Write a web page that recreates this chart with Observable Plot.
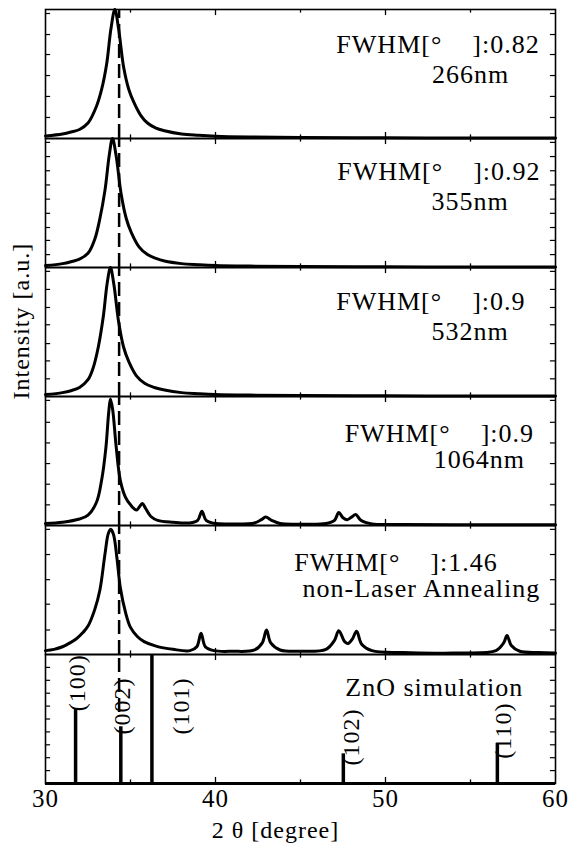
<!DOCTYPE html>
<html><head><meta charset="utf-8">
<script src="https://cdn.jsdelivr.net/npm/d3@7"></script>
<script src="https://cdn.jsdelivr.net/npm/@observablehq/plot@0.6"></script>
<style>
html,body{margin:0;padding:0;background:#fff;}
svg text{letter-spacing:1px;}
</style></head><body><div id="chart"></div>
<script>
// ---- data ----
const panels = ["266nm", "355nm", "532nm", "1064nm", "non-Laser", "ZnO"];

// XRD patterns: [2theta, relative intensity]
const pat266 = [[30,0.02],[31,0.035],[31.5,0.05],[32,0.07],[32.5,0.12],[33,0.25],[33.3,0.38],[33.6,0.58],[33.85,0.85],[34.08,1.0],[34.3,0.85],[34.6,0.55],[34.9,0.38],[35.2,0.28],[35.6,0.18],[36,0.12],[36.5,0.08],[37,0.06],[38,0.035],[39,0.025],[40,0.018],[42,0.012],[45,0.008],[50,0.005],[55,0.004],[60,0.003]];
const pat355 = [[30,0.015],[31,0.03],[31.5,0.045],[32,0.065],[32.5,0.11],[32.9,0.22],[33.2,0.38],[33.5,0.6],[33.75,0.87],[33.94,1.0],[34.15,0.87],[34.45,0.57],[34.75,0.38],[35.05,0.27],[35.5,0.16],[36,0.1],[36.5,0.07],[37,0.05],[38,0.03],[39,0.022],[40,0.016],[42,0.011],[45,0.007],[50,0.005],[55,0.004],[60,0.003]];
const pat532 = [[30,0.015],[31,0.03],[31.5,0.045],[32,0.07],[32.5,0.13],[32.8,0.22],[33.1,0.38],[33.4,0.62],[33.63,0.88],[33.82,1.0],[34.02,0.87],[34.3,0.58],[34.6,0.38],[34.9,0.27],[35.35,0.16],[35.85,0.1],[36.4,0.07],[37,0.05],[38,0.03],[39,0.022],[40,0.016],[42,0.011],[45,0.007],[50,0.005],[55,0.004],[60,0.003]];
const pat1064 = [[30,0.015],[31,0.025],[32,0.05],[32.5,0.08],[33,0.18],[33.3,0.35],[33.55,0.6],[33.72,0.88],[33.82,0.98],[33.95,0.9],[34.15,0.62],[34.4,0.35],[34.7,0.22],[35.0,0.16],[35.35,0.12],[35.55,0.15],[35.7,0.17],[35.9,0.13],[36.2,0.07],[36.6,0.04],[37.5,0.025],[38.5,0.02],[38.95,0.04],[39.2,0.11],[39.45,0.04],[40,0.015],[41,0.012],[42.3,0.02],[42.7,0.045],[42.95,0.065],[43.3,0.04],[43.8,0.015],[45,0.01],[46.5,0.015],[47,0.04],[47.25,0.1],[47.5,0.06],[47.75,0.045],[48,0.065],[48.25,0.085],[48.55,0.04],[49.2,0.012],[51,0.008],[55,0.006],[60,0.006]];
const patNonLaser = [[30,0.03],[30.5,0.04],[31,0.06],[31.3,0.08],[31.8,0.12],[32.2,0.17],[32.5,0.22],[32.9,0.35],[33.2,0.5],[33.5,0.78],[33.7,0.94],[33.84,0.97],[34.0,0.93],[34.2,0.75],[34.4,0.52],[34.7,0.33],[35.0,0.21],[35.4,0.14],[35.8,0.1],[36.5,0.065],[37.5,0.04],[38.5,0.03],[38.9,0.06],[39.15,0.165],[39.4,0.06],[39.9,0.03],[41,0.025],[42.3,0.035],[42.75,0.09],[43.0,0.19],[43.25,0.09],[43.8,0.035],[45,0.025],[46.5,0.04],[47.0,0.11],[47.25,0.185],[47.6,0.1],[47.8,0.085],[48.05,0.12],[48.3,0.18],[48.6,0.08],[49.2,0.03],[51,0.015],[54,0.012],[56.5,0.03],[56.95,0.09],[57.15,0.147],[57.4,0.07],[57.9,0.025],[59,0.015],[60,0.012]];

// ZnO simulation sticks
const simPos = [31.77, 34.43, 36.26, 47.52, 56.58];
const simHeight = [0.58, 0.44, 1.0, 0.23, 0.31];
const simLabels = ["(100)", "(002)", "(101)", "(102)", "(110)"];
const simLabelX = [31.86, 34.51, 37.99, 47.99, 56.91];
const simLabelY = [0.78, 0.6, 0.6, 0.36, 0.41];

// dashed reference line
const refLine = 34.33;

// annotations
const annPanel = ["266nm","266nm","355nm","355nm","532nm","532nm","1064nm","1064nm","non-Laser","non-Laser","ZnO"];
const annText = ["FWHM[°\u00a0\u00a0\u00a0\u00a0]:0.82","266nm","FWHM[°\u00a0\u00a0\u00a0\u00a0]:0.92","355nm","FWHM[°\u00a0\u00a0\u00a0\u00a0]:0.9","532nm","FWHM[°\u00a0\u00a0\u00a0\u00a0]:0.9","1064nm","FWHM[°\u00a0\u00a0\u00a0\u00a0]:1.46","non-Laser Annealing","ZnO simulation"];
const annX = [53.09, 55.0, 53.14, 54.98, 52.67, 54.98, 53.17, 55.52, 50.62, 52.11, 52.87];
const annY = [0.66, 0.43, 0.68, 0.447, 0.672, 0.44, 0.65, 0.444, 0.646, 0.444, 0.68];

// axis ticks
const xTickLabels = [30, 40, 50, 60];
const xMajorTicks = [40, 50];
const xMinorTicks = [35, 45, 55];
const yTicks266 = [0.163, 0.326, 0.488, 0.651, 0.806, 0.969];
const yTicks355 = [0.10, 0.21, 0.31, 0.42, 0.53, 0.64, 0.75, 0.86, 0.97];
const yTicks532 = [0.137, 0.276, 0.41, 0.556, 0.69, 0.83, 0.97];
const yTicks1064 = [0.16, 0.32, 0.48, 0.64, 0.80, 0.97];
const yTicksNonLaser = [0.19, 0.39, 0.58, 0.775, 0.97];
const yTicksSim = [0.1, 0.2, 0.3, 0.4, 0.5, 0.6, 0.7, 0.8, 0.9];

// ---- build tables ----
const patterns = [pat266, pat355, pat532, pat1064, patNonLaser];
const curveRows = patterns.flatMap((p, i) => p.map(([x, y]) => ({panel: panels[i], x, y})));
const yTickSets = [yTicks266, yTicks355, yTicks532, yTicks1064, yTicksNonLaser, yTicksSim];
const yTickRows = yTickSets.flatMap((s, i) => s.map(v => ({panel: panels[i], v})));
const simRows = simPos.map((x, i) => ({panel: "ZnO", x, h: simHeight[i]}));
const simLabelRows = simLabels.map((t, i) => ({panel: "ZnO", t, x: simLabelX[i], y: simLabelY[i]}));
const annRows = annText.map((t, i) => ({panel: annPanel[i], t, x: annX[i], y: annY[i]}));
const dashRows = panels.map(p => ({panel: p, x: refLine, y1: p === "ZnO" ? 0.55 : 0, y2: 1}));

const serif = "Liberation Serif";

const chart = Plot.plot({
  width: 570,
  height: 848,
  marginTop: 8,
  marginBottom: 65,
  marginLeft: 45,
  marginRight: 15,
  style: {fontFamily: serif, fontSize: "24px", color: "black", background: "white"},
  x: {domain: [30, 60]},
  y: {domain: [0, 1], axis: null},
  fy: {domain: panels, padding: 0, axis: null},
  marks: [
    Plot.ruleX(dashRows, {fy: "panel", x: "x", y1: "y1", y2: "y2", stroke: "black", strokeWidth: 2.5, strokeDasharray: "14,6"}),
    Plot.line(curveRows, {fy: "panel", x: "x", y: "y", curve: "catmull-rom", stroke: "black", strokeWidth: 3}),
    Plot.ruleX(simRows, {fy: "panel", x: "x", y1: 0, y2: "h", stroke: "black", strokeWidth: 3.5}),
    Plot.frame({stroke: "black", strokeWidth: 1.6}),
    Plot.ruleY([{panel: "ZnO"}], {fy: "panel", y: 0, stroke: "black", strokeWidth: 3}),
    Plot.ruleX(xMajorTicks, {x: d => d, y1: 0, y2: 0.047, stroke: "black", strokeWidth: 1.3}),
    Plot.ruleX(xMajorTicks, {x: d => d, y1: 1, y2: 0.953, stroke: "black", strokeWidth: 1.3}),
    Plot.ruleX(xMinorTicks, {x: d => d, y1: 0, y2: 0.028, stroke: "black", strokeWidth: 1.3}),
    Plot.ruleX(xMinorTicks, {x: d => d, y1: 1, y2: 0.972, stroke: "black", strokeWidth: 1.3}),
    Plot.ruleY(yTickRows, {fy: "panel", y: "v", x1: 30, x2: 30.3, stroke: "black", strokeWidth: 1.2}),
    Plot.ruleY(yTickRows, {fy: "panel", y: "v", x1: 59.7, x2: 60, stroke: "black", strokeWidth: 1.2}),
    Plot.text(annRows, {fy: "panel", x: "x", y: "y", text: "t", textAnchor: "middle", lineAnchor: "bottom", fontSize: 26, fontFamily: serif, fill: "black"}),
    Plot.text(simLabelRows, {fy: "panel", x: "x", y: "y", text: "t", rotate: -90, textAnchor: "middle", lineAnchor: "middle", fontSize: 24, fontFamily: serif, fill: "black"}),
    Plot.axisX({ticks: xTickLabels, tickSize: 0, tickPadding: 6, fontSize: 25, fontFamily: serif, label: null, tickFormat: d => String(d)}),
    Plot.text([{panel: "ZnO", t: "2 \u03b8 [degree]"}], {fy: "panel", x: () => 43.53, text: "t", frameAnchor: "bottom", dy: 54, lineAnchor: "bottom", fontSize: 24, fontFamily: serif, fill: "black"}),
    Plot.text([{panel: "1064nm", t: "Intensity [a.u.]"}], {fy: "panel", text: "t", frameAnchor: "top-left", rotate: -90, textAnchor: "start", lineAnchor: "middle", dx: -24, dy: 3, fontSize: 24, fontFamily: serif, fill: "black"})
  ]
});
document.getElementById("chart").appendChild(chart);
</script></body></html>
